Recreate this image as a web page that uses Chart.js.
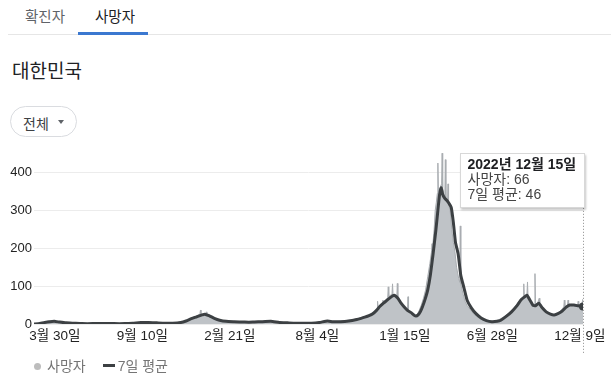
<!DOCTYPE html>
<html lang="ko">
<head>
<meta charset="UTF-8">
<title>대한민국 사망자</title>
<script src="https://cdn.jsdelivr.net/npm/chart.js"></script>
<style>
  body { margin: 0; width: 611px; height: 375px; overflow: hidden; background: #fff;
         font-family: Arial, "Liberation Sans", "Noto Sans CJK KR", sans-serif; position: relative; }
  .tabs { position: absolute; left: 0; top: 0; width: 611px; height: 36px; }
  .tabs .sep { position: absolute; left: 8px; right: 0; top: 34px; height: 1px; background: #e6e6e6; }
  .tab { position: absolute; top: 5px; font-size: 14.5px; color: #5f6368; }
  .tab.on { color: #202124; }
  .tab.on:after { content: ''; position: absolute; left: -17px; right: -13px; top: 27px; height: 3px; background: #3b78d0; }
  h1 { position: absolute; left: 12px; top: 56px; margin: 0; font-size: 19px; font-weight: normal; color: #202124; }
  .btn { position: absolute; left: 10px; top: 106px; width: 65px; height: 29px; border: 1px solid #dadce0;
         border-radius: 16px; font-size: 14px; color: #3c4043; }
  .btn span { position: absolute; left: 12px; top: 6px; }
  .btn i { position: absolute; left: 47px; top: 13px; border-left: 3px solid transparent; border-right: 3px solid transparent;
           border-top: 4px solid #5f6368; }
  .chartbox { position: absolute; left: 0; top: 140px; width: 611px; height: 220px; }
  .tip { position: absolute; background: #fff; border: 1px solid #d8d8d8; box-shadow: 1px 2px 2px rgba(0,0,0,0.22);
         padding: 3px 8px 5px 7px; font-size: 14px; line-height: 15px; color: #444; white-space: nowrap; }
  .tip b { color: #202124; }
  .legend { position: absolute; left: 34px; top: 355px; font-size: 14px; color: #757575; }
  .legend .dot { display: inline-block; width: 7px; height: 7px; border-radius: 50%; background: #bdbdbd; margin-right: 6px; vertical-align: 1px; }
  .legend .dash { display: inline-block; width: 12px; height: 3px; background: #3c4043; margin: 0 3px 0 17px; vertical-align: 4px; }
</style>
</head>
<body>
<div class="tabs">
  <div class="sep"></div>
  <div class="tab" style="left:25px">확진자</div>
  <div class="tab on" style="left:95px">사망자</div>
</div>
<h1>대한민국</h1>
<div class="btn"><span>전체</span><i></i></div>
<div class="chartbox"><canvas id="myChart"></canvas></div>
<div class="tip" id="tip"></div>
<div class="legend"><span class="dot"></span>사망자<span class="dash"></span>7일 평균</div>

<script>
// day 0 = 2020-02-20, last day 1029 = 2022-12-15
const tickDays = [39, 203, 367, 531, 695, 859, 1023];
const tickLabels = ['3월 30일', '9월 10일', '2월 21일', '8월 4일', '1월 15일', '6월 28일', '12월 9일'];

// 7일 평균
const avgDays = [0,8,20,30,38,48,60,75,90,110,130,150,170,185,200,215,230,245,260,275,285,295,305,315,320,328,338,348,360,375,
  395,410,425,444,460,475,490,505,520,535,550,560,575,590,605,613,620,628,635,642,648,655,662,668,675,682,688,694,700,707,
  712,716,720,724,728,733,738,743,748,753,757,760,763,766,770,774,778,782,786,790,795,800,806,812,820,828,838,848,858,868,875,
  885,895,905,913,920,924,930,935,940,946,953,960,968,975,983,990,997,1004,1012,1020,1029];
const avgValues = [0,1,4,6,7,5,3,2,1,1,1,1,1,2,4,4,3,2,2,4,8,14,19,24,26,22,15,10,7,6,
  5,5,6,7,4,3,2,2,2,4,8,6,6,8,12,15,18,22,27,36,46,55,63,70,76,68,55,45,36,30,
  24,21,24,32,45,65,90,130,185,245,300,340,360,342,332,326,318,308,268,215,185,128,95,62,42,28,16,9,6,7,10,
  20,32,48,64,72,76,62,50,48,55,42,32,26,24,28,34,44,50,50,48,46];

// 사망자 (일별)
const deathDays = [0,8,15,22,28,34,40,48,58,70,85,100,120,140,160,180,190,196,205,215,228,240,255,270,280,288,296,304,310,311,312,313,
  318,322,323,324,330,338,345,355,365,380,400,420,440,455,470,485,500,515,530,545,555,570,585,600,612,622,630,638,643,644,645,
  650,653,654,655,660,663,664,665,668,671,672,673,676,680,681,682,686,690,695,700,701,702,706,710,714,718,722,726,730,734,738,
  742,745,746,747,750,752,754,756,757,758,761,764,765,766,768,770,771,772,775,776,777,780,783,786,789,792,796,798,799,800,804,
  808,812,818,825,835,845,855,865,872,880,890,898,905,910,915,917,918,919,922,924,925,926,930,934,938,939,940,944,947,948,952,
  958,965,972,978,985,990,993,994,995,1000,1001,1002,1008,1014,1019,1020,1021,1026,1029];
const deathValues = [0,1,3,6,8,7,6,4,2,2,1,1,0,1,1,1,3,5,4,3,3,2,2,3,6,11,16,21,25,26,37,24,
  27,26,32,22,19,14,9,7,6,5,5,6,7,5,3,2,2,2,4,8,7,7,9,12,16,20,25,33,40,60,42,
  50,55,63,56,64,70,98,72,76,78,106,76,74,70,107,64,55,46,40,33,72,32,27,23,20,25,36,50,68,90,125,
  160,190,212,200,250,300,320,345,425,350,360,370,451,360,345,330,434,330,320,370,315,300,250,215,190,150,120,110,259,105,80,
  60,48,38,25,15,9,7,8,12,18,28,40,52,62,70,72,106,72,78,80,111,70,60,50,52,133,50,56,68,54,42,
  32,27,24,24,32,40,45,63,46,50,63,50,52,50,50,60,48,48,66];

const tipDate = '2022년 12월 15일';

const avgData = avgDays.map((d, i) => ({x: d, y: avgValues[i]}));
const deathData = deathDays.map((d, i) => ({x: d, y: deathValues[i]}));
const lastIdx = avgData.length - 1;

const tipPlugin = {
  id: 'tipPlugin',
  afterDatasetsDraw(chart) {
    const ctx = chart.ctx;
    const xs = chart.scales.x;
    const px = Math.round(xs.getPixelForValue(avgDays[lastIdx])) + 0.5;
    const top = chart.chartArea.top;
    ctx.save();
    ctx.strokeStyle = '#8a8a8a';
    ctx.lineWidth = 1;
    ctx.setLineDash([1, 2]);
    ctx.beginPath();
    ctx.moveTo(px, top + 58);
    ctx.lineTo(px, chart.chartArea.bottom + 30);
    ctx.stroke();
    ctx.restore();

    const tip = document.getElementById('tip');
    tip.innerHTML = '<b>' + tipDate + '</b><br>사망자: ' + deathValues[deathValues.length - 1] +
      '<br>7일 평균: ' + avgValues[lastIdx];
    const box = chart.canvas.parentNode;
    tip.style.top = (box.offsetTop + top + 3) + 'px';
    tip.style.left = (box.offsetLeft + px + 2 - tip.offsetWidth) + 'px';
  }
};

const ctx = document.getElementById('myChart').getContext('2d');
const myChart = new Chart(ctx, {
  type: 'line',
  data: {
    datasets: [
      {
        label: '7일 평균',
        data: avgData,
        borderColor: '#3c4043',
        borderWidth: 3,
        tension: 0.15,
        fill: false,
        pointRadius: c => c.dataIndex === lastIdx ? 4 : 0,
        pointBackgroundColor: '#3c4043',
        pointBorderWidth: 0
      },
      {
        label: '사망자',
        data: deathData,
        borderColor: '#a9adb1',
        borderWidth: 1,
        backgroundColor: '#bfc3c7',
        fill: 'origin',
        tension: 0,
        pointRadius: 0
      }
    ]
  },
  options: {
    responsive: true,
    maintainAspectRatio: false,
    animation: false,
    layout: { padding: { top: 8, right: 28, left: 0, bottom: 0 } },
    plugins: { legend: { display: false }, tooltip: { enabled: false } },
    scales: {
      x: {
        type: 'linear',
        min: 0,
        max: 1029,
        grid: { display: false },
        border: { display: false },
        afterBuildTicks: s => { s.ticks = tickDays.map(v => ({value: v})); },
        afterFit: s => { s.height = 36; s.paddingLeft = 0; s.paddingRight = 0; },
        ticks: {
          autoSkip: false,
          maxRotation: 0,
          padding: -4,
          color: '#222',
          font: { family: 'Arial, "Liberation Sans", "Noto Sans CJK KR", sans-serif', size: 13.5 },
          callback: (v, i) => tickLabels[i]
        }
      },
      y: {
        min: 0,
        max: 460,
        grid: { color: '#ececec', drawTicks: false },
        border: { display: false },
        afterFit: s => { s.width = 34; },
        ticks: {
          stepSize: 100,
          includeBounds: false,
          padding: 2,
          color: '#222',
          font: { family: 'Arial, "Liberation Sans", sans-serif', size: 13 }
        }
      }
    }
  },
  plugins: [tipPlugin]
});
</script>
</body>
</html>
